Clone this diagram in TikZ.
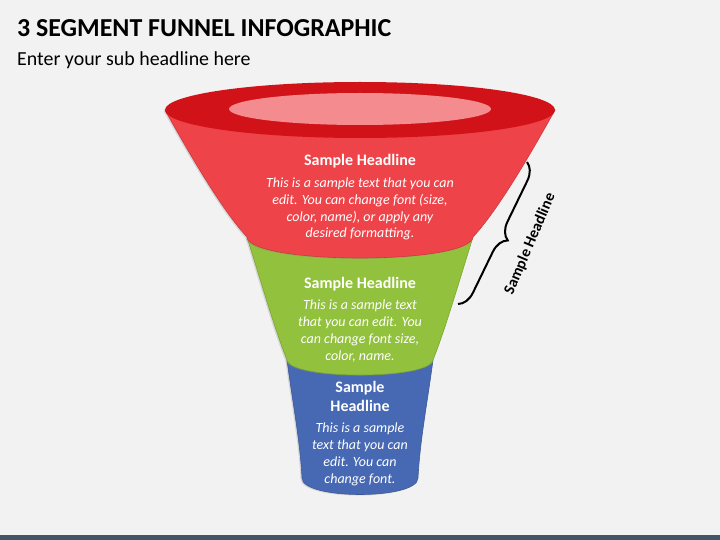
\documentclass[tikz,border=0pt]{standalone}
\usepackage{fontspec}
\setmainfont{Carlito}
\usetikzlibrary{decorations.pathreplacing,shadows}
\definecolor{fond}{HTML}{F2F2F2}
\definecolor{barre}{HTML}{44546A}
\definecolor{rougeclair}{HTML}{EF434A}
\definecolor{rougefonce}{HTML}{D21219}
\definecolor{rougerose}{HTML}{F48C8F}
\definecolor{vert}{HTML}{92C13E}
\definecolor{bleu}{HTML}{4769B3}
\begin{document}
\begin{tikzpicture}[
      x=1pt, y=-1pt,
      tranche/.style={fill=#1, draw=#1!85!black, line width=0.6pt,
        drop shadow={shadow xshift=-1.5pt, shadow yshift=-1pt, opacity=0.25}},
      tete/.style={text=white, inner sep=0pt, anchor=north, align=center,
        font=\bfseries\fontsize{16}{19}\selectfont},
      corps/.style={text=white, inner sep=0pt, anchor=north, align=center,
        font=\itshape\fontsize{14}{16.8}\selectfont},
      accolade/.style={decorate, decoration={brace, amplitude=17pt},
        line width=2pt, black}
    ]
    \useasboundingbox (0,0) rectangle (720,540);
    \fill[fond] (0,0) rectangle (720,540);
    \fill[barre] (0,535) rectangle (720,540);
    \path (17,37) node(titre) [anchor=base west, inner sep=0pt,
      font=\bfseries\fontsize{25.9}{31}\selectfont] {3 SEGMENT FUNNEL INFOGRAPHIC}
    (17,66) node(soustitre) [anchor=base west, inner sep=0pt,
      font=\fontsize{19.9}{24}\selectfont] {Enter your sub headline here};
    % entonnoir
    \path[tranche=bleu] (287,360) .. controls (293,405) and (300,440) .. (302,478)
      .. controls (302,500) and (418,500) .. (418,478)
      .. controls (420,440) and (427,405) .. (433,360) -- cycle;
    \path[tranche=vert] (247,237) .. controls (262,285) and (275,330) .. (287,360)
      .. controls (290,380) and (430,380) .. (433,360)
      .. controls (445,330) and (458,285) .. (473,237) -- cycle;
    \path[tranche=rougeclair] (165,110) .. controls (190,155) and (222,210) .. (247,237)
      .. controls (250,265) and (470,265) .. (473,237)
      .. controls (498,210) and (530,155) .. (555,110) -- cycle;
    \fill[rougefonce] (360,110) ellipse [x radius=195, y radius=28];
    \fill[rougerose] (360,109) ellipse [x radius=131, y radius=16];
    % textes
    \path (360,154) node(t1) [tete] {Sample Headline}
    (360,177.5) node(c1) [corps] {This is a sample text that you can\\edit. You can change font (size,\\color, name), or apply any\\desired formatting.};
    \path (360,277) node(t2) [tete] {Sample Headline}
    (360,300) node(c2) [corps] {This is a sample text\\that you can edit. You\\can change font size,\\color, name.};
    \path (360,381) node(t3) [tete] {Sample\\Headline}
    (360,423) node(c3) [corps] {This is a sample\\text that you can\\edit. You can\\change font.};
    % accolade
    \coordinate (haut) at (527,162);
    \coordinate (bas) at (458,304);
    \draw[accolade] (haut) -- (bas);
    \path (530,244) node(etiq) [rotate=67, inner sep=0pt,
      font=\bfseries\fontsize{15.5}{18}\selectfont] {Sample Headline};
  \end{tikzpicture}
\end{document}
